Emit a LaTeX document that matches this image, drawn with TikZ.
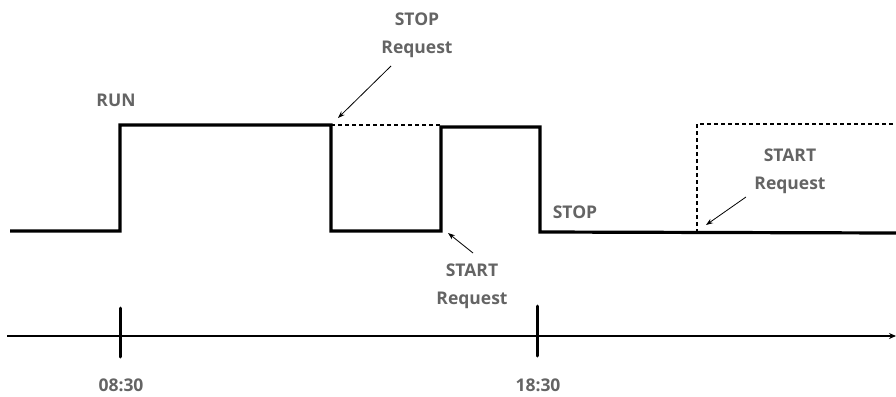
\documentclass[tikz,border=0pt]{standalone}
\usepackage{fontspec}
\setmainfont{Open Sans}
\usetikzlibrary{arrows.meta}
\definecolor{lbl}{RGB}{100,100,100}
\tikzset{
  sig/.style={line width=3.2pt, line join=miter},
  sigdash/.style={line width=2pt, dash pattern=on 4pt off 3pt},
  lab/.style={text=lbl, font=\bfseries\fontsize{17.5}{28}\selectfont, align=center, inner sep=0pt},
  callout/.style={line width=0.8pt, -{Stealth[length=7pt,width=5pt]}},
  tick/.style={line width=3pt, line cap=round},
  axis/.style={line width=1.5pt, -{Stealth[length=7pt,width=6pt]}}
}
\begin{document}
\begin{tikzpicture}[x=1pt,y=-1pt]
\useasboundingbox (0,0) rectangle (896,396);
% signal
\coordinate (s0) at (10,231);
\coordinate (s1) at (120,231);
\coordinate (s2) at (120,125);
\coordinate (s3) at (331,125);
\coordinate (s4) at (331,231);
\coordinate (s5) at (441,231);
\coordinate (s6) at (441,127);
\coordinate (s7) at (540,127);
\coordinate (s8) at (540,232);
\coordinate (s9) at (896,233);
\draw[sig] (s0) -- (s1) -- (s2) -- (s3) -- (s4) -- (s5) -- (s6) -- (s7) -- (s8) -- (s9);
% dashed requests
\coordinate (d1) at (697,233);
\coordinate (d2) at (697,124);
\coordinate (d3) at (896,124);
\draw[sigdash] (s3) -- (s6 |- s3);
\draw[sigdash] (d1) -- (d2) -- (d3);
% labels
\node[lab] (run) at (116,100) {RUN};
\node[lab] (stop) at (575,212) {STOP};
\node[lab] (stopreq) at (417,35) {STOP\\Request};
\node[lab] (startreq1) at (472,286) {START\\Request};
\node[lab] (startreq2) at (790,171) {START\\Request};
% callout arrows
\coordinate (a1s) at (391,66);
\coordinate (a1e) at (338,118);
\coordinate (a2s) at (473,253);
\coordinate (a2e) at (448,233);
\coordinate (a3s) at (746,197);
\coordinate (a3e) at (706,225);
\draw[callout] (a1s) -- (a1e);
\draw[callout] (a2s) -- (a2e);
\draw[callout] (a3s) -- (a3e);
% time axis
\coordinate (ax0) at (7,336);
\coordinate (ax1) at (896,336);
\draw[axis] (ax0) -- (ax1);
\coordinate (t1a) at (120,308);
\coordinate (t1b) at (120,357);
\coordinate (t2a) at (537,306);
\coordinate (t2b) at (537,356);
\draw[tick] (t1a) -- (t1b);
\draw[tick] (t2a) -- (t2b);
\node[lab] (l1) at (121,385) {08:30};
\node[lab] (l2) at (538,385) {18:30};
\end{tikzpicture}
\end{document}
